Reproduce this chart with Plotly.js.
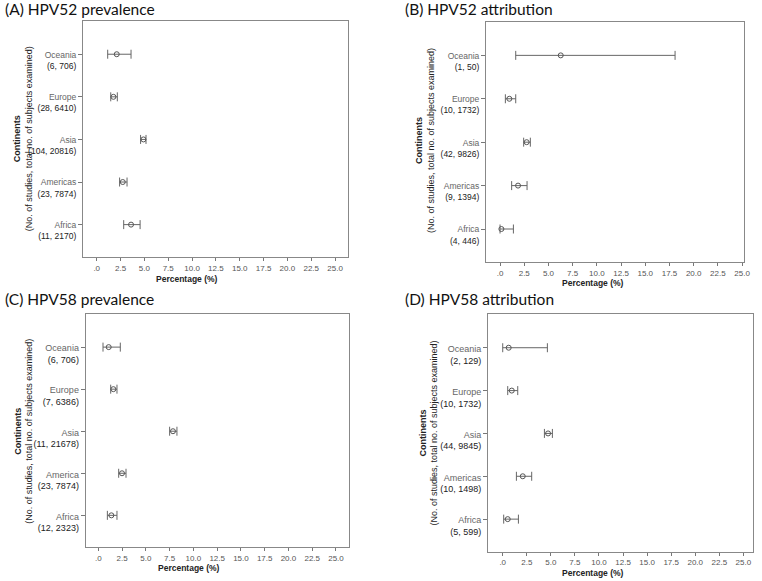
<!DOCTYPE html>
<html>
<head>
<meta charset="utf-8">
<script src="https://cdn.plot.ly/plotly-3.0.1.min.js"></script>
<style>html,body{margin:0;padding:0;background:#fff;}#chart{width:762px;height:581px;}</style>
</head>
<body>
<div id="chart"></div>
<script>
// ---- data ----
const catsAB = ['Africa', 'Americas', 'Asia', 'Europe', 'Oceania'];
const catsC = ['Africa', 'America', 'Asia', 'Europe', 'Oceania'];
const catsD = ['Africa', 'Americas', 'Asia', 'Europe', 'Oceania'];

const countsA = ['(11, 2170)', '(23, 7874)', '(104, 20816)', '(28, 6410)', '(6, 706)'];
const estA = [3.6, 2.73, 4.9, 1.75, 2.1];
const lowA = [2.83, 2.4, 4.6, 1.47, 1.15];
const highA = [4.55, 3.18, 5.17, 2.16, 3.6];

const countsB = ['(4, 446)', '(9, 1394)', '(42, 9826)', '(10, 1732)', '(1, 50)'];
const estB = [0.14, 1.86, 2.75, 0.96, 6.27];
const lowB = [0.0, 1.2, 2.44, 0.55, 1.62];
const highB = [1.38, 2.79, 3.13, 1.62, 18.08];

const countsC = ['(12, 2323)', '(23, 7874)', '(11, 21678)', '(7, 6386)', '(6, 706)'];
const estC = [1.37, 2.49, 7.85, 1.58, 1.09];
const lowC = [0.95, 2.14, 7.5, 1.30, 0.49];
const highC = [1.96, 2.91, 8.27, 1.96, 2.31];

const countsD = ['(5, 599)', '(10, 1498)', '(44, 9845)', '(10, 1732)', '(2, 129)'];
const estD = [0.52, 2.08, 4.71, 0.94, 0.62];
const lowD = [0.1, 1.42, 4.33, 0.52, 0.0];
const highD = [1.63, 3.01, 5.16, 1.56, 4.64];

const xTickVals = [0, 2.5, 5, 7.5, 10, 12.5, 15, 17.5, 20, 22.5, 25];
const xTickText = ['.0', '2.5', '5.0', '7.5', '10.0', '12.5', '15.0', '17.5', '20.0', '22.5', '25.0'];

const panelTitles = ['(A) HPV52 prevalence', '(B) HPV52 attribution', '(C) HPV58 prevalence', '(D) HPV58 attribution'];
const xTitle = 'Percentage (%)';
const yTitle1 = 'Continents';
const yTitle2 = '(No. of studies, total no. of subjects examined)';

// ---- build ----
const W = 762, H = 581;
const panels = [
  {cats: catsAB, counts: countsA, est: estA, low: lowA, high: highA,
   box: [83, 348, 21, 257], xr: [-1.44, 26.36], ttl: [3, 8.5], xt: [187, 279], yt: [23.3, 139]},
  {cats: catsAB, counts: countsB, est: estB, low: lowB, high: highB,
   box: [486, 744, 21.5, 262], xr: [-1.45, 25.2], ttl: [403, 8.5], xt: [593, 283], yt: [425, 141]},
  {cats: catsC, counts: countsC, est: estC, low: lowC, high: highC,
   box: [85.7, 349, 314.3, 547.3], xr: [-1.33, 26.37], ttl: [3, 299], xt: [189, 568], yt: [23.8, 431]},
  {cats: catsD, counts: countsD, est: estD, low: lowD, high: highD,
   box: [488, 752.7, 314.3, 551.7], xr: [-1.53, 25.97], ttl: [403, 299], xt: [593, 573], yt: [428.5, 433]}
];

const traces = [];
const layout = {
  width: W, height: H, autosize: false,
  margin: {l: 0, r: 0, t: 0, b: 0},
  paper_bgcolor: '#fff', plot_bgcolor: '#fff',
  showlegend: false,
  font: {family: '"Liberation Sans", Arial, sans-serif', size: 9, color: '#555'},
  annotations: []
};

panels.forEach((p, i) => {
  const n = i === 0 ? '' : String(i + 1);
  const yvals = p.cats.map((c, k) => k);
  traces.push({
    type: 'scatter', mode: 'markers',
    x: p.est, y: yvals,
    xaxis: 'x' + n, yaxis: 'y' + n,
    marker: {symbol: 'circle-open', size: 5, color: '#555', line: {width: 1, color: '#555'}},
    error_x: {
      type: 'data', symmetric: false,
      array: p.high.map((h, k) => h - p.est[k]),
      arrayminus: p.est.map((e, k) => e - p.low[k]),
      color: '#666', thickness: 1, width: 4.5
    },
    hoverinfo: 'skip'
  });
  const [x0, x1, y0, y1] = p.box;
  layout['xaxis' + n] = {
    domain: [x0 / W, x1 / W], anchor: 'y' + n,
    range: p.xr, tickvals: xTickVals, ticktext: xTickText,
    ticks: 'outside', ticklen: 3, tickcolor: '#777', tickwidth: 1,
    showgrid: false, zeroline: false,
    showline: true, mirror: true, linecolor: '#888', linewidth: 1,
    tickfont: {size: 8, color: '#555'}, automargin: false, fixedrange: true
  };
  layout['yaxis' + n] = {
    domain: [1 - y1 / H, 1 - y0 / H], anchor: 'x' + n,
    range: [-0.76, 4.78],
    tickvals: yvals,
    ticktext: p.cats.map((c, k) => '<span style="color:#666">' + c + '</span><br>' + p.counts[k]),
    ticks: 'outside', ticklen: 4, tickcolor: '#777', tickwidth: 1,
    ticklabelshift: i >= 2 ? 7 : 6,
    showgrid: false, zeroline: false,
    showline: true, mirror: true, linecolor: '#888', linewidth: 1,
    tickfont: {size: i >= 2 ? 9 : 8.5, color: '#222'}, automargin: false, fixedrange: true
  };
  layout.annotations.push({
    text: panelTitles[i], xref: 'paper', yref: 'paper',
    x: p.ttl[0] / W, y: 1 - p.ttl[1] / H, xanchor: 'left', yanchor: 'middle',
    showarrow: false, font: {family: 'Lato, "Open Sans", sans-serif', size: 15.5, color: '#111'}
  });
  layout.annotations.push({
    text: '<b>' + xTitle + '</b>', xref: 'paper', yref: 'paper',
    x: p.xt[0] / W, y: 1 - p.xt[1] / H, xanchor: 'center', yanchor: 'middle',
    showarrow: false, font: {size: 8.5, color: '#222'}
  });
  layout.annotations.push({
    text: '<b>' + yTitle1 + '</b><br>' + yTitle2, xref: 'paper', yref: 'paper',
    x: p.yt[0] / W, y: 1 - p.yt[1] / H, xanchor: 'center', yanchor: 'middle',
    textangle: -90, showarrow: false, font: {size: 9, color: '#222'}
  });
});

Plotly.newPlot('chart', traces, layout, {staticPlot: true, displayModeBar: false});
</script>
</body>
</html>
